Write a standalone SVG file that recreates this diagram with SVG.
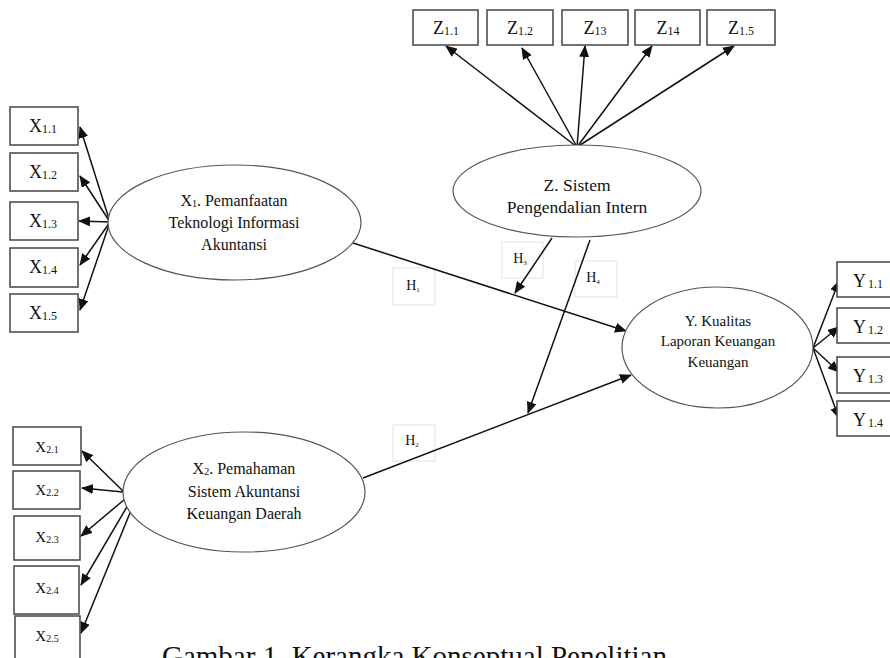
<svg xmlns="http://www.w3.org/2000/svg" width="890" height="658" viewBox="0 0 890 658">
<style>
text{font-family:"Liberation Serif","DejaVu Serif",serif;fill:#111;text-anchor:middle}
.box{fill:#fff;stroke:#444;stroke-width:1.5}
.ell{fill:#fff;stroke:#555;stroke-width:1.2}
.hb{fill:none;stroke:#e2e2e2;stroke-width:1}
.c line{stroke:#111;stroke-width:1.5}
.ind{font-size:18px}
.sub{font-size:12px}
.x2{font-size:15px}
.x2s{font-size:10px}
.lt{font-size:16px}
.h{font-size:14px}
.hs{font-size:7px}
</style>
<defs>
<marker id="ah" markerUnits="userSpaceOnUse" markerWidth="12" markerHeight="10" refX="11" refY="5" orient="auto">
<path d="M0,0 L12,5 L0,10 Z" fill="#111"/>
</marker>
</defs>
<rect width="890" height="658" fill="#fff"/>

<!-- H label boxes -->
<g id="h1"><rect class="hb" x="393" y="268" width="42" height="37"/><text class="h" x="413" y="290">H<tspan class="hs" dy="2">1</tspan></text></g>
<g id="h2"><rect class="hb" x="393" y="425" width="42" height="36"/><text class="h" x="412" y="445">H<tspan class="hs" dy="2">2</tspan></text></g>
<g id="h3"><rect class="hb" x="502" y="242" width="41" height="36"/><text class="h" x="520" y="263">H<tspan class="hs" dy="2">3</tspan></text></g>
<g id="h4"><rect class="hb" x="575" y="261" width="42" height="36"/><text class="h" x="593" y="282">H<tspan class="hs" dy="2">4</tspan></text></g>

<!-- connectors -->
<g class="c" id="connectors">
<line x1="110" y1="222" x2="80" y2="127" marker-end="url(#ah)"/>
<line x1="110" y1="222" x2="80" y2="176" marker-end="url(#ah)"/>
<line x1="110" y1="222" x2="79" y2="221" marker-end="url(#ah)"/>
<line x1="110" y1="222" x2="80" y2="265" marker-end="url(#ah)"/>
<line x1="110" y1="222" x2="80" y2="310" marker-end="url(#ah)"/>

<line x1="577" y1="147" x2="446" y2="46" marker-end="url(#ah)"/>
<line x1="577" y1="147" x2="522" y2="48" marker-end="url(#ah)"/>
<line x1="577" y1="147" x2="585" y2="46" marker-end="url(#ah)"/>
<line x1="577" y1="147" x2="652" y2="46" marker-end="url(#ah)"/>
<line x1="577" y1="147" x2="734" y2="46" marker-end="url(#ah)"/>

<line x1="813" y1="348" x2="839" y2="281" marker-end="url(#ah)"/>
<line x1="813" y1="348" x2="839" y2="327" marker-end="url(#ah)"/>
<line x1="813" y1="348" x2="839" y2="372" marker-end="url(#ah)"/>
<line x1="813" y1="348" x2="839" y2="418" marker-end="url(#ah)"/>

<line x1="123" y1="491" x2="82" y2="451" marker-end="url(#ah)"/>
<line x1="123" y1="492" x2="82" y2="488" marker-end="url(#ah)"/>
<line x1="125" y1="499" x2="81" y2="536" marker-end="url(#ah)"/>
<line x1="128" y1="505" x2="81" y2="585" marker-end="url(#ah)"/>
<line x1="132" y1="508" x2="81" y2="633" marker-end="url(#ah)"/>

<line x1="353" y1="243" x2="626" y2="331" marker-end="url(#ah)"/>
<line x1="363" y1="478" x2="631" y2="375" marker-end="url(#ah)"/>
<line x1="552" y1="238" x2="515" y2="293" marker-end="url(#ah)"/>
<line x1="590" y1="240" x2="528" y2="413" marker-end="url(#ah)"/>
</g>

<!-- X1 latent -->
<g id="x1"><ellipse class="ell" cx="234.5" cy="222.5" rx="126.5" ry="57.5"/>
<text class="lt" x="234" y="206">X<tspan font-size="10" dy="1">1</tspan><tspan dy="-1">. Pemanfaatan</tspan></text>
<text class="lt" x="234" y="228">Teknologi Informasi</text>
<text class="lt" x="234" y="250">Akuntansi</text></g>

<!-- Z latent -->
<g id="z"><ellipse class="ell" cx="577" cy="191" rx="124" ry="46"/>
<text x="577" y="191" font-size="17.5">Z. Sistem</text>
<text x="577" y="213" font-size="17.5">Pengendalian Intern</text></g>

<!-- Y latent -->
<g id="y"><ellipse class="ell" cx="717.5" cy="347.5" rx="95.5" ry="60.5"/>
<text x="718" y="326" font-size="15">Y. Kualitas</text>
<text x="718" y="346" font-size="15">Laporan Keuangan</text>
<text x="718" y="367" font-size="15">Keuangan</text></g>

<!-- X2 latent -->
<g id="x2"><ellipse class="ell" cx="244" cy="492" rx="121" ry="60"/>
<text class="lt" x="244" y="474">X<tspan font-size="10" dy="1">2</tspan><tspan dy="-1">. Pemahaman</tspan></text>
<text class="lt" x="244" y="497">Sistem Akuntansi</text>
<text class="lt" x="244" y="519">Keuangan Daerah</text></g>

<!-- X1 indicators -->
<g id="x11"><rect class="box" x="10" y="107" width="68" height="38"/><text class="ind" x="43" y="132">X<tspan class="sub" dy="1">1.1</tspan></text></g>
<g id="x12"><rect class="box" x="10" y="153" width="68" height="38"/><text class="ind" x="43" y="178">X<tspan class="sub" dy="1">1.2</tspan></text></g>
<g id="x13"><rect class="box" x="10" y="202" width="68" height="38"/><text class="ind" x="43" y="227">X<tspan class="sub" dy="1">1.3</tspan></text></g>
<g id="x14"><rect class="box" x="10" y="248" width="68" height="39"/><text class="ind" x="43" y="273">X<tspan class="sub" dy="1">1.4</tspan></text></g>
<g id="x15"><rect class="box" x="10" y="294" width="68" height="38"/><text class="ind" x="43" y="319">X<tspan class="sub" dy="1">1.5</tspan></text></g>

<!-- Z indicators -->
<g id="z11"><rect class="box" x="413" y="10" width="65" height="35"/><text class="ind" x="446" y="34">Z<tspan class="sub" dy="1">1.1</tspan></text></g>
<g id="z12"><rect class="box" x="487" y="10" width="66" height="35"/><text class="ind" x="520" y="34">Z<tspan class="sub" dy="1">1.2</tspan></text></g>
<g id="z13"><rect class="box" x="562" y="10" width="66" height="35"/><text class="ind" x="595" y="34">Z<tspan class="sub" dy="1">13</tspan></text></g>
<g id="z14"><rect class="box" x="635" y="10" width="65" height="35"/><text class="ind" x="668" y="34">Z<tspan class="sub" dy="1">14</tspan></text></g>
<g id="z15"><rect class="box" x="707" y="10" width="68" height="35"/><text class="ind" x="741" y="34">Z<tspan class="sub" dy="1">1.5</tspan></text></g>

<!-- Y indicators -->
<g id="y11"><rect class="box" x="837" y="262" width="60" height="35"/><text class="ind" x="868" y="287">Y<tspan class="sub" dx="2" dy="1">1.1</tspan></text></g>
<g id="y12"><rect class="box" x="837" y="308" width="60" height="35"/><text class="ind" x="868" y="333">Y<tspan class="sub" dx="2" dy="1">1.2</tspan></text></g>
<g id="y13"><rect class="box" x="837" y="357" width="60" height="36"/><text class="ind" x="868" y="382">Y<tspan class="sub" dx="2" dy="1">1.3</tspan></text></g>
<g id="y14"><rect class="box" x="837" y="401" width="60" height="35"/><text class="ind" x="868" y="426">Y<tspan class="sub" dx="2" dy="1">1.4</tspan></text></g>

<!-- X2 indicators -->
<g id="x21"><rect class="box" x="13" y="427" width="68" height="38"/><text class="x2" x="47" y="452">X<tspan class="x2s" dy="1">2.1</tspan></text></g>
<g id="x22"><rect class="box" x="13" y="471" width="67" height="38"/><text class="x2" x="47" y="495">X<tspan class="x2s" dy="1">2.2</tspan></text></g>
<g id="x23"><rect class="box" x="14" y="516" width="66" height="44"/><text class="x2" x="47" y="542">X<tspan class="x2s" dy="1">2.3</tspan></text></g>
<g id="x24"><rect class="box" x="14" y="566" width="65" height="48"/><text class="x2" x="47" y="593">X<tspan class="x2s" dy="1">2.4</tspan></text></g>
<g id="x25"><rect class="box" x="15" y="616" width="65" height="50"/><text class="x2" x="47" y="641">X<tspan class="x2s" dy="1">2.5</tspan></text></g>

<text x="162" y="666" font-size="29" style="text-anchor:start">Gambar 1. Kerangka Konseptual Penelitian</text>
</svg>
